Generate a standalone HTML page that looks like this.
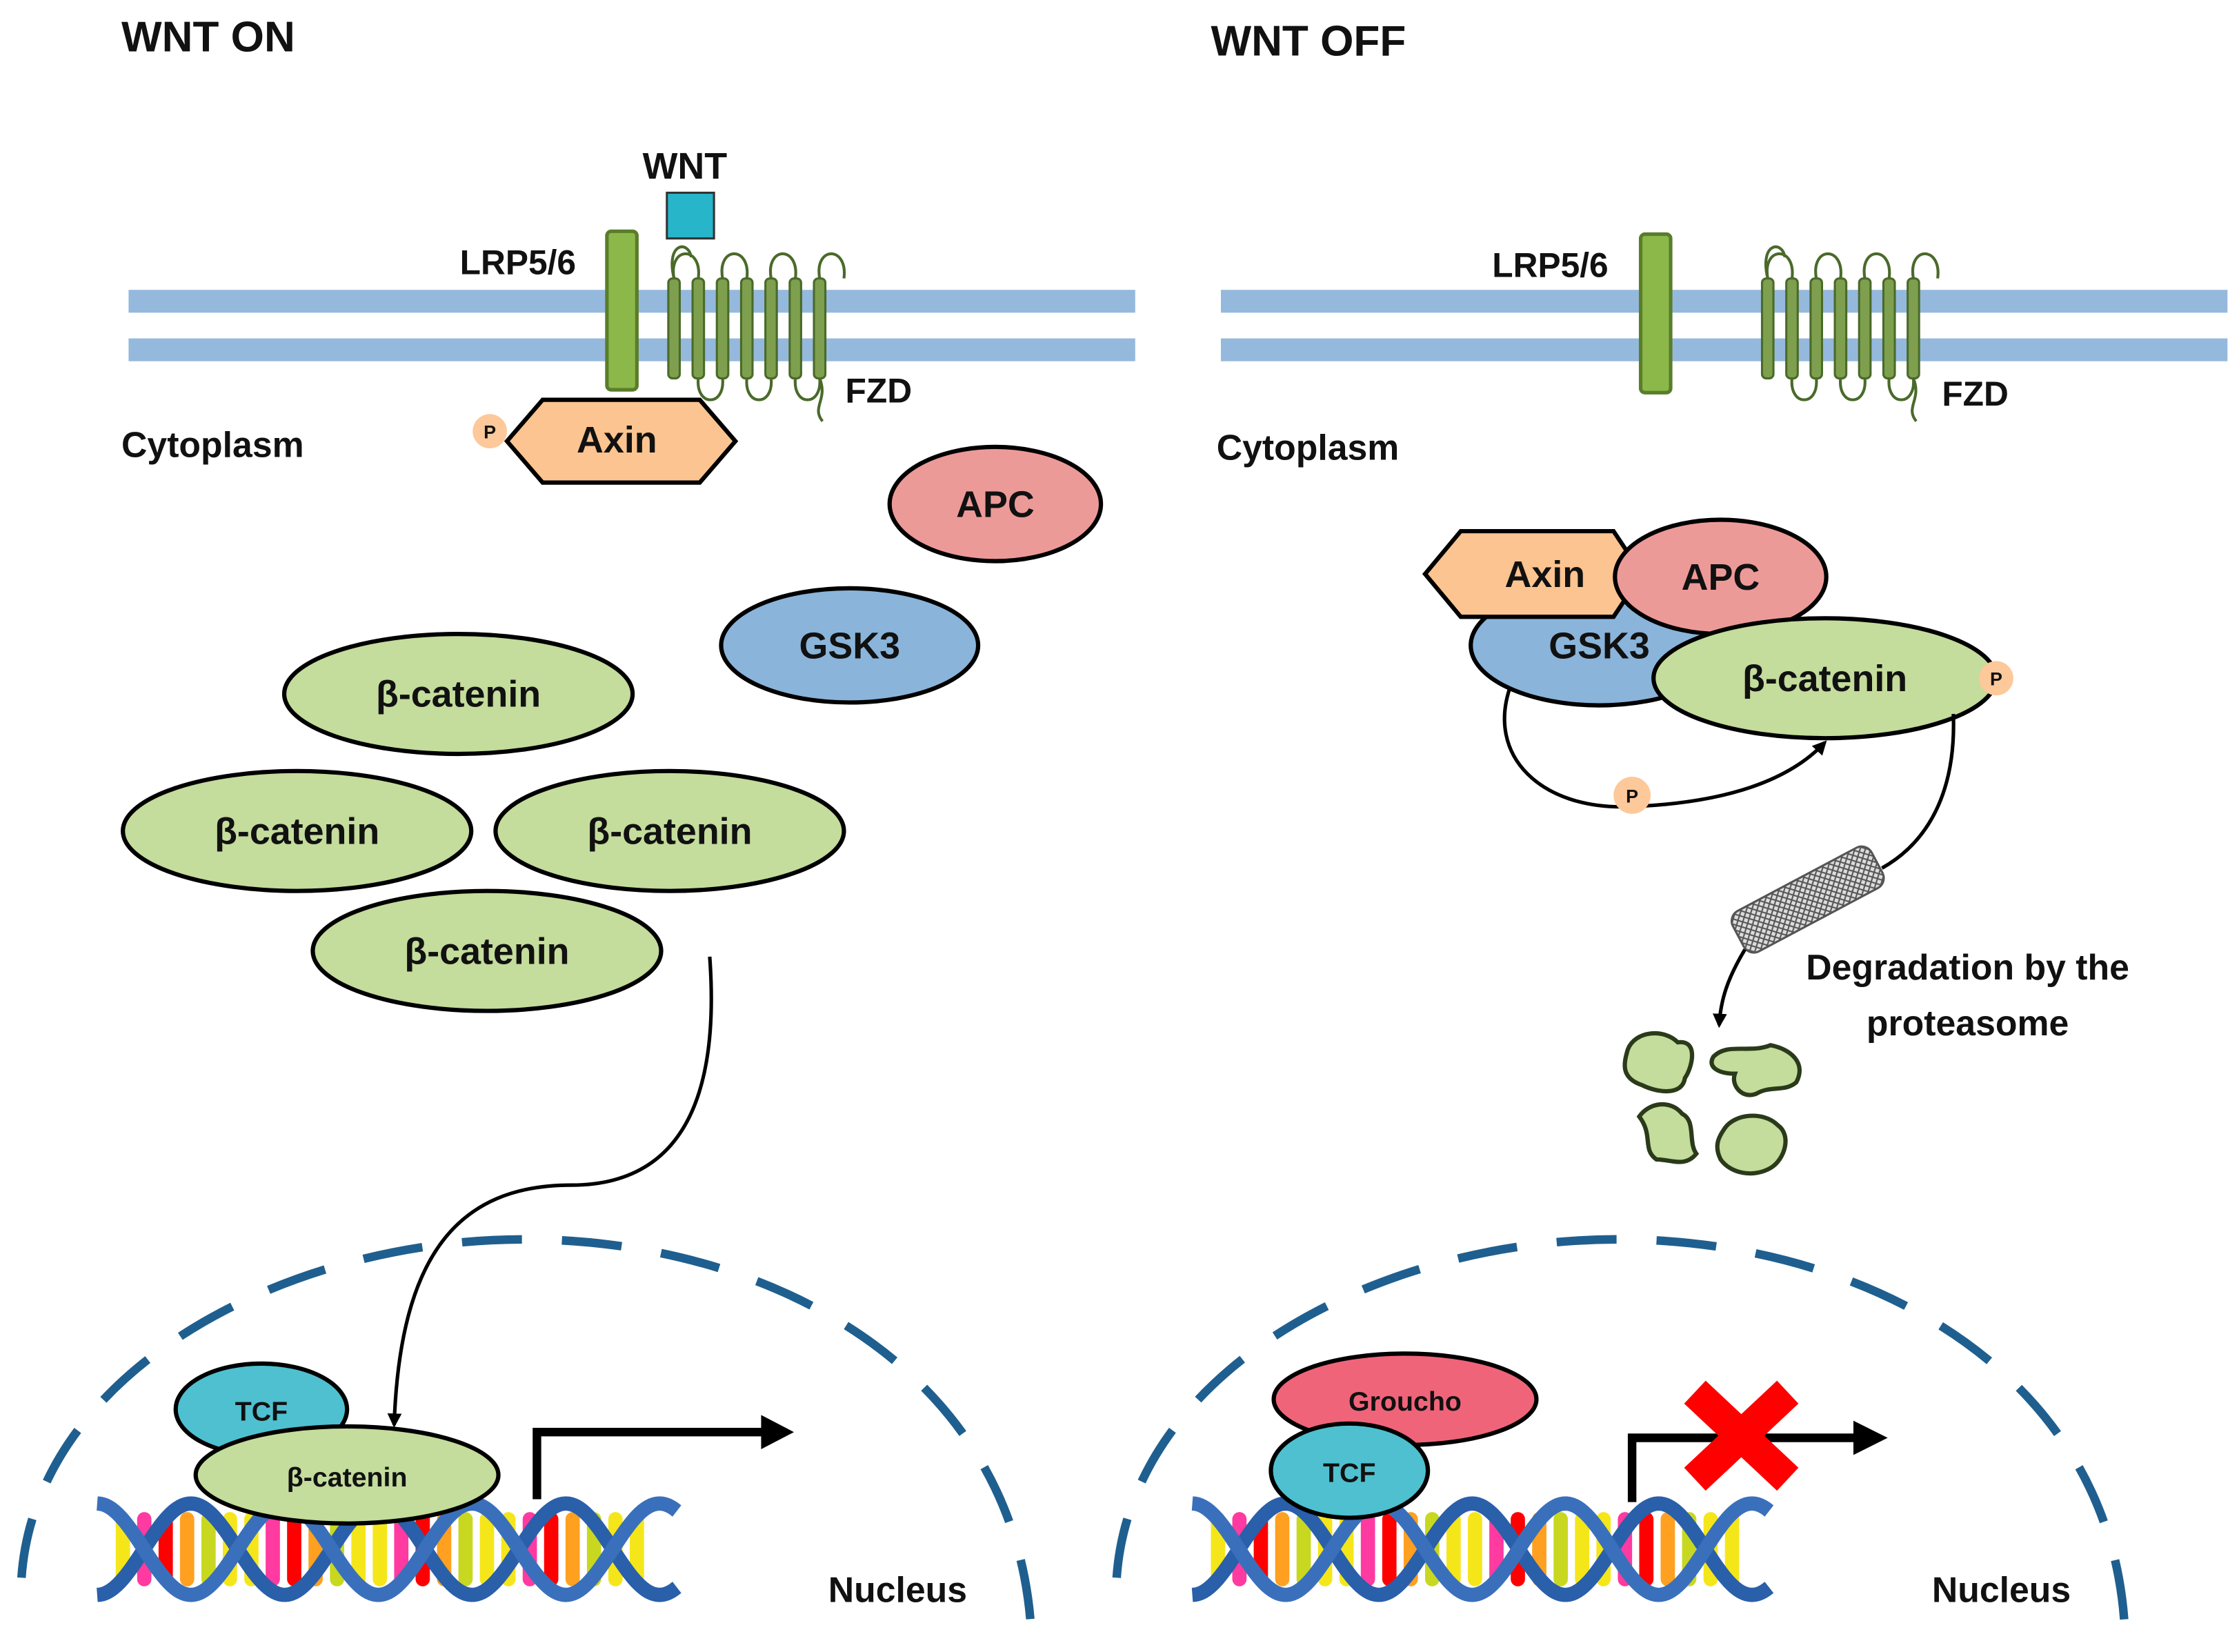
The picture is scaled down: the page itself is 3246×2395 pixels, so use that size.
<!DOCTYPE html>
<html><head><meta charset="utf-8"><style>
html,body{margin:0;padding:0;background:#fff}
svg{display:block}
text{font-family:"Liberation Sans",sans-serif;font-weight:bold;fill:#111}
</style></head><body>
<svg id="s" width="3246" height="2395" viewBox="0 0 1568 1157" xmlns="http://www.w3.org/2000/svg">
<defs>
<marker id="ah" markerWidth="10" markerHeight="10" refX="8" refY="5" orient="auto" markerUnits="userSpaceOnUse"><path d="M0,0 L10,5 L0,10 z" fill="#000"/></marker>
<pattern id="mesh" width="5" height="5" patternUnits="userSpaceOnUse"><rect width="5" height="5" fill="#ddd"/><path d="M0,0L5,5M5,0L0,5" stroke="#555" stroke-width="1"/></pattern>
</defs>
<text x="85" y="36" font-size="30">WNT ON</text>
<text x="848" y="39" font-size="30">WNT OFF</text>
<g fill="#95b9dd">
<rect x="90" y="203" width="705" height="16"/><rect x="90" y="237" width="705" height="16"/>
<rect x="855" y="203" width="705" height="16"/><rect x="855" y="237" width="705" height="16"/>
</g>
<g id="fzdL"></g><g id="fzdR"></g>
<rect x="425" y="162" width="21" height="111" rx="3" fill="#8cb84a" stroke="#5a7d2a" stroke-width="2.5"/>
<rect x="1149" y="164" width="21" height="111" rx="3" fill="#8cb84a" stroke="#5a7d2a" stroke-width="2.5"/>
<text x="322" y="192" font-size="24">LRP5/6</text>
<text x="1045" y="194" font-size="24">LRP5/6</text>
<text x="592" y="282" font-size="24">FZD</text>
<text x="1360" y="284" font-size="24">FZD</text>
<rect x="467" y="135" width="33" height="32" fill="#27b5c9" stroke="#333" stroke-width="1.5"/>
<text x="450" y="125" font-size="26">WNT</text>
<text x="85" y="320" font-size="25">Cytoplasm</text>
<text x="852" y="322" font-size="25">Cytoplasm</text>
<g stroke="#000" stroke-width="3">
<polygon points="355,309 380,280 490,280 515,309 490,338 380,338" fill="#fcc490"/>
</g>
<circle cx="343" cy="302" r="12" fill="#fdc89a"/><text x="343" y="307" font-size="13" text-anchor="middle">P</text>
<text x="432" y="317" font-size="26" text-anchor="middle">Axin</text>
<g stroke="#000" stroke-width="3">
<ellipse cx="697" cy="353" rx="74" ry="40" fill="#ec9a98"/>
<ellipse cx="595" cy="452" rx="90" ry="40" fill="#8ab4da"/>
<ellipse cx="321" cy="486" rx="122" ry="42" fill="#c4dc9c"/>
<ellipse cx="208" cy="582" rx="122" ry="42" fill="#c4dc9c"/>
<ellipse cx="469" cy="582" rx="122" ry="42" fill="#c4dc9c"/>
<ellipse cx="341" cy="666" rx="122" ry="42" fill="#c4dc9c"/>
</g>
<g font-size="26" text-anchor="middle">
<text x="697" y="362">APC</text><text x="595" y="461">GSK3</text>
<text x="321" y="495">β-catenin</text><text x="208" y="591">β-catenin</text>
<text x="469" y="591">β-catenin</text><text x="341" y="675">β-catenin</text>
</g>
<path d="M497,670 C505,780 470,830 400,830 C320,830 280,880 276,998" fill="none" stroke="#000" stroke-width="2.5" marker-end="url(#ah)"/>
<g fill="none" stroke="#1f5f8f" stroke-width="6" stroke-dasharray="42,28">
<path d="M15,1105 C25,960 200,868 367,868 C540,868 710,960 722,1140"/>
<path d="M782,1105 C792,960 965,868 1133,868 C1305,868 1478,960 1488,1140"/>
</g>
<g id="dnaL"></g><g id="dnaR"></g>
<g stroke="#000" stroke-width="3">
<ellipse cx="183" cy="987" rx="60" ry="32" fill="#4fc0d0"/>
<ellipse cx="243" cy="1033" rx="106" ry="34" fill="#c4dc9c"/>
</g>
<text x="183" y="995" font-size="19" text-anchor="middle">TCF</text>
<text x="243" y="1041" font-size="19" text-anchor="middle">β-catenin</text>
<path d="M376,1050 V1003 H535" fill="none" stroke="#000" stroke-width="6"/>
<path d="M533,991 L556,1003 L533,1015 z" fill="#000"/>
<text x="580" y="1122" font-size="25">Nucleus</text>
<path d="M1058,480 C1040,530 1080,567 1140,565 C1200,563 1250,550 1278,520" fill="none" stroke="#000" stroke-width="2.5" marker-end="url(#ah)"/>
<g stroke="#000" stroke-width="3">
<ellipse cx="1120" cy="452" rx="90" ry="42" fill="#8ab4da"/>
<polygon points="998,402 1023,372 1130,372 1150,402 1130,432 1023,432" fill="#fcc490"/>
<ellipse cx="1205" cy="404" rx="74" ry="40" fill="#ec9a98"/>
<ellipse cx="1278" cy="475" rx="120" ry="42" fill="#c4dc9c"/>
</g>
<g font-size="26" text-anchor="middle">
<text x="1082" y="411">Axin</text><text x="1205" y="413">APC</text>
<text x="1120" y="461">GSK3</text><text x="1278" y="484">β-catenin</text>
</g>
<circle cx="1398" cy="475" r="12" fill="#fdc89a"/><text x="1398" y="480" font-size="13" text-anchor="middle">P</text>
<circle cx="1143" cy="557" r="13" fill="#fdc89a"/><text x="1143" y="562" font-size="13" text-anchor="middle">P</text>
<path d="M1368,500 C1370,555 1350,590 1318,608" fill="none" stroke="#000" stroke-width="2.5"/>
<g transform="translate(1266,630) rotate(-28)">
<rect x="-55" y="-16" width="110" height="32" rx="8" fill="url(#mesh)" stroke="#555" stroke-width="1.5"/>
</g>
<path d="M1222,665 C1210,685 1205,700 1204,718" fill="none" stroke="#000" stroke-width="2.5" marker-end="url(#ah)"/>
<text x="1378" y="686" font-size="25" text-anchor="middle">Degradation by the</text>
<text x="1378" y="725" font-size="25" text-anchor="middle">proteasome</text>
<g fill="#c4dc9c" stroke="#2a3a1a" stroke-width="3">
<path d="M1140,735 C1145,722 1165,720 1175,730 C1190,728 1185,748 1180,755 C1178,768 1160,765 1150,760 C1135,755 1137,745 1140,735z"/>
<path d="M1200,740 C1210,730 1225,738 1240,732 C1255,735 1265,745 1258,758 C1250,765 1240,760 1230,766 C1220,770 1212,760 1215,752 C1205,752 1195,748 1200,740z"/>
<path d="M1148,782 C1155,772 1170,770 1178,780 C1188,785 1182,800 1188,808 C1180,818 1170,812 1160,812 C1150,805 1158,795 1148,782z"/>
<path d="M1208,790 C1215,780 1235,778 1245,788 C1255,795 1250,812 1240,818 C1228,825 1212,822 1205,812 C1200,802 1204,796 1208,790z"/>
</g>
<g stroke="#000" stroke-width="3">
<ellipse cx="984" cy="980" rx="92" ry="32" fill="#f0647a"/>
<ellipse cx="945" cy="1030" rx="55" ry="33" fill="#4fc0d0"/>
</g>
<text x="984" y="988" font-size="19" text-anchor="middle">Groucho</text>
<text x="945" y="1038" font-size="19" text-anchor="middle">TCF</text>
<path d="M1143,1052 V1007 H1300" fill="none" stroke="#000" stroke-width="6"/>
<path d="M1298,995 L1322,1007 L1298,1019 z" fill="#000"/>
<g stroke="#f00" stroke-width="22" stroke-linecap="butt">
<line x1="1187" y1="975" x2="1252" y2="1036"/><line x1="1252" y1="975" x2="1187" y2="1036"/>
</g>
<text x="1353" y="1122" font-size="25">Nucleus</text>
</svg>
<script>
var NS="http://www.w3.org/2000/svg";
function el(p,t,a){var e=document.createElementNS(NS,t);for(var k in a)e.setAttribute(k,a[k]);p.appendChild(e);return e;}
function fzd(id,x0){var g=document.getElementById(id);
 for(var i=0;i<7;i++){var x=x0+i*17;
  el(g,"rect",{x:x-4,y:195,width:8,height:70,rx:3,fill:"#7ea04e",stroke:"#4a6a2a","stroke-width":1.5});}
 var p="M"+x0+",195 C"+(x0-6)+",170 "+(x0+10)+",168 "+(x0+12)+",180";
 for(var i=0;i<7;i++){var x=x0+i*17;
  if(i%2==0){p+=" M"+x+",195 C"+(x-4)+",172 "+(x+20)+",172 "+(x+17)+",195";}
  else{p+=" M"+x+",265 C"+(x-2)+",285 "+(x+19)+",285 "+(x+17)+",265";}}
 var xl=x0+6*17;p+=" M"+xl+",265 C"+(xl+6)+",280 "+(xl-6)+",285 "+(xl+2)+",295";
 el(g,"path",{d:p,fill:"none",stroke:"#4a6a2a","stroke-width":2});}
fzd("fzdL",472);fzd("fzdR",1238);
function dna(id,x0,x1){var g=document.getElementById(id);var y0=1053,y1=1117,ym=(y0+y1)/2,A=(y1-y0)/2;
 var per=(x1-x0)/3.1;var cols=["#f5e61a","#ff3aa0","#f00","#ffa020","#c8d820","#f5e61a"];
 var k=0;for(var x=x0+18;x<x1-18;x+=15){
  el(g,"rect",{x:x-5,y:ym-A+6,width:10,height:2*A-12,rx:5,fill:cols[k%6]});k++;}
 var d1="",d2="";for(var x=x0;x<=x1;x+=2){var t=(x-x0)/per*2*Math.PI;
  d1+=(x==x0?"M":"L")+x+","+(ym+A*Math.cos(t));d2+=(x==x0?"M":"L")+x+","+(ym-A*Math.cos(t));}
 el(g,"path",{d:d1,fill:"none",stroke:"#2a5faa","stroke-width":10});
 el(g,"path",{d:d2,fill:"none",stroke:"#3a70bb","stroke-width":10});}
dna("dnaL",68,475);dna("dnaR",835,1240);
</script>
</body></html>
